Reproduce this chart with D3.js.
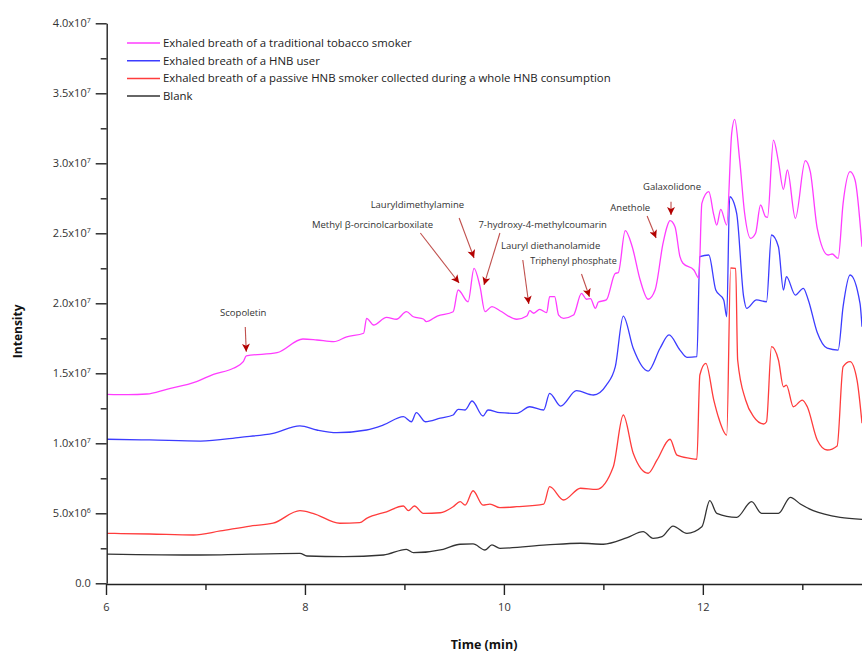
<!DOCTYPE html>
<html>
<head>
<meta charset="utf-8">
<script src="https://cdn.jsdelivr.net/npm/d3@7"></script>
<style>
  body { margin: 0; background: #fff; }
  svg { display: block; font-family: "Open Sans", sans-serif; }
</style>
</head>
<body>
<svg id="chart" width="862" height="653"></svg>
<script>
// time (min), intensity (x10^6)
const smoker = [
  [6.01,13.50],[6.22,13.47],[6.41,13.52],[6.61,13.86],[6.91,14.40],[7.08,14.93],[7.28,15.36],[7.38,15.83],[7.41,16.24],
  [7.72,16.47],[7.98,17.45],[8.12,17.38],[8.29,17.26],[8.42,17.61],[8.59,17.86],[8.62,18.93],[8.69,18.45],
  [8.82,19.00],[8.92,18.86],[9.02,19.40],[9.09,19.04],[9.19,18.88],[9.22,18.69],[9.33,19.09],[9.49,19.40],
  [9.54,20.95],[9.64,20.11],[9.70,22.50],[9.76,21.19],[9.81,19.40],[9.88,19.76],[9.96,19.47],[10.13,18.86],
  [10.23,19.09],[10.26,19.47],[10.30,19.29],[10.36,19.57],[10.43,19.33],[10.46,20.47],[10.51,20.47],[10.55,19.16],
  [10.60,18.93],[10.70,19.16],[10.78,20.71],[10.83,20.29],[10.87,20.33],[10.92,19.64],[10.95,20.09],[11.03,20.24],
  [11.12,22.14],[11.15,22.19],[11.22,25.19],[11.29,24.04],[11.37,21.66],[11.45,20.29],[11.52,20.95],[11.60,24.29],
  [11.64,25.47],[11.67,25.90],[11.72,25.47],[11.77,23.33],[11.80,22.86],[11.91,22.38],[11.96,21.79],[11.99,27.14],
  [12.06,27.97],[12.11,26.31],[12.14,25.59],[12.18,26.71],[12.24,25.59],[12.29,32.14],[12.32,33.14],[12.37,30.24],
  [12.42,26.43],[12.48,24.64],[12.53,25.00],[12.58,27.02],[12.63,26.19],[12.65,26.14],[12.71,31.66],[12.76,30.11],
  [12.81,28.14],[12.85,29.52],[12.93,26.07],[13.03,30.19],[13.08,29.40],[13.15,25.36],[13.26,23.45],[13.30,23.52],
  [13.36,23.21],[13.41,27.14],[13.48,29.40],[13.53,28.81],[13.60,24.04]
];
const hnbUser = [
  [6.01,10.29],[6.44,10.24],[6.95,10.16],[7.35,10.43],[7.68,10.71],[7.95,11.24],[8.12,10.95],[8.32,10.76],
  [8.62,10.95],[8.79,11.31],[8.99,11.90],[9.07,11.54],[9.12,12.19],[9.21,11.54],[9.36,11.79],[9.49,12.02],
  [9.54,12.43],[9.61,12.38],[9.68,13.02],[9.79,11.95],[9.84,12.38],[9.96,12.19],[10.13,12.14],[10.26,12.61],
  [10.40,12.38],[10.46,13.57],[10.57,12.66],[10.73,13.76],[10.90,13.45],[11.03,14.16],[11.12,15.47],[11.20,19.09],
  [11.30,16.79],[11.45,15.16],[11.57,16.79],[11.66,17.74],[11.77,16.66],[11.84,16.14],[11.94,16.19],[11.97,23.33],
  [12.06,23.45],[12.13,20.95],[12.21,20.24],[12.24,19.04],[12.27,27.61],[12.34,26.43],[12.41,20.47],[12.44,19.64],
  [12.54,20.24],[12.64,20.11],[12.69,24.88],[12.76,24.04],[12.81,20.95],[12.84,21.90],[12.93,20.59],[13.01,21.07],
  [13.06,20.24],[13.15,17.91],[13.25,16.79],[13.36,16.66],[13.41,19.76],[13.48,22.02],[13.58,20.00],[13.60,18.33]
];
const passive = [
  [6.01,3.57],[6.44,3.52],[6.88,3.45],[7.15,3.74],[7.45,4.09],[7.68,4.29],[7.95,5.19],[8.08,5.00],
  [8.35,4.29],[8.55,4.33],[8.62,4.64],[8.82,5.11],[8.99,5.52],[9.04,5.19],[9.10,5.52],[9.19,5.00],
  [9.36,5.04],[9.49,5.47],[9.56,5.83],[9.61,5.59],[9.69,6.61],[9.79,5.59],[9.86,5.66],[9.96,5.40],
  [10.13,5.47],[10.40,5.66],[10.46,6.90],[10.60,5.95],[10.77,6.79],[10.93,6.71],[11.10,8.33],[11.20,12.02],
  [11.30,9.29],[11.45,7.86],[11.54,8.81],[11.67,10.29],[11.74,9.16],[11.87,8.93],[11.94,8.86],[11.97,14.88],
  [12.03,15.71],[12.11,13.09],[12.16,11.79],[12.24,10.59],[12.28,22.52],[12.33,22.50],[12.35,15.95],[12.43,13.09],
  [12.51,11.90],[12.61,11.38],[12.64,11.54],[12.69,16.90],[12.76,15.95],[12.81,14.04],[12.84,14.16],[12.91,12.61],
  [13.00,13.09],[13.05,12.61],[13.15,10.24],[13.25,9.52],[13.35,9.81],[13.41,15.47],[13.48,15.83],[13.55,14.52],
  [13.60,11.43]
];
const blank = [
  [6.01,2.09],[6.95,2.02],[7.95,2.14],[8.02,1.95],[8.39,1.90],[8.79,2.02],[9.02,2.43],[9.09,2.19],
  [9.39,2.43],[9.56,2.79],[9.69,2.81],[9.81,2.38],[9.88,2.74],[9.96,2.50],[10.43,2.74],[10.77,2.86],
  [11.00,2.79],[11.24,3.26],[11.40,3.69],[11.50,3.21],[11.59,3.33],[11.70,4.09],[11.84,3.57],[11.99,4.04],
  [12.07,5.90],[12.14,5.00],[12.34,4.71],[12.49,5.83],[12.59,5.00],[12.76,5.00],[12.88,6.14],[12.98,5.66],
  [13.11,5.19],[13.38,4.71],[13.60,4.57]
];

const seriesNames = [
  'Exhaled breath of a traditional tobacco smoker',
  'Exhaled breath of a HNB user',
  'Exhaled breath of a passive HNB smoker collected during a whole HNB consumption',
  'Blank'
];
const seriesColors = ['#ff3cff', '#3c3cff', '#ff3c3c', '#333333'];

const yMajor = [0, 5e6, 1e7, 1.5e7, 2e7, 2.5e7, 3e7, 3.5e7, 4e7];
const yMinor = [2.5e6, 7.5e6, 1.25e7, 1.75e7, 2.25e7, 2.75e7, 3.25e7, 3.75e7];
const xMajor = [6, 8, 10, 12];
const xMinor = [7, 9, 11, 13];

// label, text pos [t, I], arrow from [t, I], arrow to [t, I]
const notes = [
  ['Scopoletin',                  [7.38, 19.33], [7.40, 18.31], [7.41, 16.54]],
  ['Methyl β-orcinolcarboxilate', [8.68, 25.64], [9.16, 25.02], [9.55, 21.45]],
  ['Lauryldimethylamine',         [9.13, 27.07], [9.55, 26.09], [9.70, 23.24]],
  ['7-hydroxy-4-methylcoumarin',  [10.39, 25.59], [9.96, 25.02], [9.80, 21.31]],
  ['Lauryl diethanolamide',       [10.47, 24.09], [10.19, 23.09], [10.25, 19.95]],
  ['Triphenyl phosphate',         [10.70, 23.02], [10.78, 22.09], [10.86, 20.47]],
  ['Anethole',                    [11.27, 26.83], [11.44, 26.24], [11.53, 24.66]],
  ['Galaxolidone',                [11.69, 28.33], [11.68, 27.26], [11.68, 26.31]]
];

const W = 862, H = 653;
const plot = { left: 106, right: 862, top: 23.3, bottom: 583.3 };

const svg = d3.select('#chart');
svg.append('rect').attr('width', W).attr('height', H).attr('fill', '#fff');

const x = d3.scaleLinear().domain([6, 13.6]).range([plot.left, plot.right]);
const y = d3.scaleLinear().domain([0, 4e7]).range([plot.bottom, plot.top]);

svg.append('defs').append('clipPath').attr('id', 'clip')
  .append('rect')
  .attr('x', plot.left).attr('y', 0)
  .attr('width', plot.right - plot.left).attr('height', plot.bottom);

const marker = svg.select('defs').append('marker')
  .attr('id', 'arrow')
  .attr('viewBox', '0 0 10 10')
  .attr('refX', 10).attr('refY', 5)
  .attr('markerUnits', 'userSpaceOnUse')
  .attr('markerWidth', 9).attr('markerHeight', 8)
  .attr('orient', 'auto');
marker.append('path').attr('d', 'M0,0 L10,5 L0,10 L2.5,5 Z').attr('fill', '#b30000');

// curves
const line = d3.line()
  .x(d => x(d[0]))
  .y(d => y(d[1] * 1e6))
  .curve(d3.curveMonotoneX);

const allSeries = [smoker, hnbUser, passive, blank];
svg.append('g').attr('clip-path', 'url(#clip)')
  .selectAll('path')
  .data(allSeries.slice().reverse())
  .join('path')
    .attr('d', line)
    .attr('fill', 'none')
    .attr('stroke', (d, i) => seriesColors[3 - i])
    .attr('stroke-width', 1.3)
    .attr('stroke-linejoin', 'round');

// axes
function expLabel(sel) {
  sel.each(function(v) {
    const t = d3.select(this).text('');
    if (v === 0) { t.text('0.0'); return; }
    const e = Math.floor(Math.log10(v));
    t.append('tspan').text((v / Math.pow(10, e)).toFixed(1) + 'x10');
    t.append('tspan').attr('dy', '-0.55em').attr('font-size', '7px').text(e);
  });
}

const yAxis = svg.append('g')
  .attr('transform', `translate(${plot.left + 0.7},0)`)
  .call(d3.axisLeft(y).tickValues(yMajor).tickSize(11).tickSizeOuter(0).tickPadding(5));
yAxis.selectAll('text').call(expLabel);
svg.append('g')
  .attr('transform', `translate(${plot.left + 0.7},0)`)
  .call(d3.axisLeft(y).tickValues(yMinor).tickSize(6).tickFormat(''))
  .select('.domain').remove();

const xAxis = svg.append('g')
  .attr('transform', `translate(0,${plot.bottom + 0.7})`)
  .call(d3.axisBottom(x).tickValues(xMajor).tickSize(11).tickSizeOuter(0).tickPadding(8).tickFormat(d3.format('d')));
svg.append('g')
  .attr('transform', `translate(0,${plot.bottom + 0.7})`)
  .call(d3.axisBottom(x).tickValues(xMinor).tickSize(6).tickFormat(''))
  .select('.domain').remove();

svg.selectAll('.domain, .tick line').attr('stroke', '#222').attr('stroke-width', 1.4);
svg.selectAll('.tick text')
  .attr('font-family', '"Open Sans", sans-serif')
  .attr('font-size', 11)
  .attr('fill', '#333');

svg.append('text')
  .attr('transform', `translate(22,${(plot.top + plot.bottom) / 2 + 28}) rotate(-90)`)
  .attr('text-anchor', 'middle')
  .attr('font-size', 12)
  .attr('font-weight', 'bold')
  .attr('fill', '#111')
  .text('Intensity');

svg.append('text')
  .attr('x', 484).attr('y', 649)
  .attr('text-anchor', 'middle')
  .attr('font-size', 12.5)
  .attr('font-weight', 'bold')
  .attr('fill', '#111')
  .text('Time (min)');

// legend
const legend = svg.append('g').attr('transform', 'translate(127,43)');
const rows = legend.selectAll('g')
  .data(seriesNames)
  .join('g')
    .attr('transform', (d, i) => `translate(0,${i * 17.7})`);
rows.append('line')
  .attr('x1', 0).attr('x2', 33)
  .attr('stroke', (d, i) => seriesColors[i])
  .attr('stroke-width', 1.5);
rows.append('text')
  .attr('x', 36).attr('dy', '0.35em')
  .attr('font-size', 11.4)
  .attr('fill', '#222')
  .text(d => d);

// annotations
const ann = svg.append('g');
ann.selectAll('line')
  .data(notes)
  .join('line')
    .attr('x1', d => x(d[2][0])).attr('y1', d => y(d[2][1] * 1e6))
    .attr('x2', d => x(d[3][0])).attr('y2', d => y(d[3][1] * 1e6))
    .attr('stroke', '#c0504d')
    .attr('stroke-width', 1.1)
    .attr('marker-end', 'url(#arrow)');
ann.selectAll('text')
  .data(notes)
  .join('text')
    .attr('x', d => x(d[1][0])).attr('y', d => y(d[1][1] * 1e6))
    .attr('dy', '0.35em')
    .attr('text-anchor', 'middle')
    .attr('font-size', d => d[0] === 'Triphenyl phosphate' ? 9 : 9.5)
    .attr('fill', '#333')
    .text(d => d[0]);
</script>
</body>
</html>
